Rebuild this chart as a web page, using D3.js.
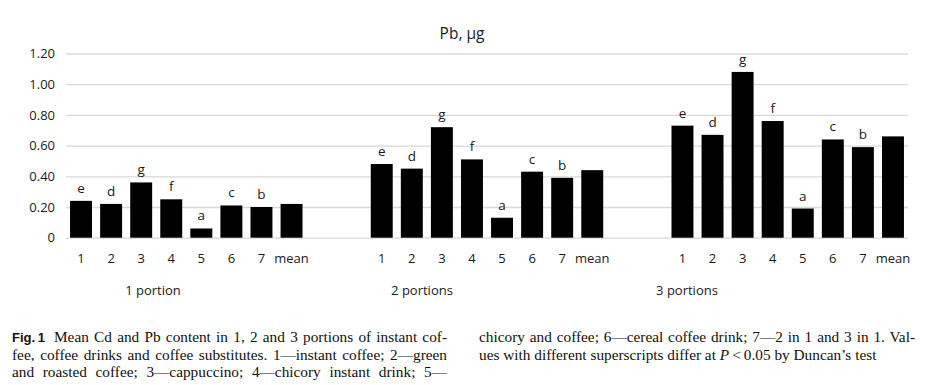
<!DOCTYPE html>
<html>
<head>
<meta charset="UTF-8">
<style>
  body { margin: 0; background: #fff; }
  svg text { font-family: "Open Sans", sans-serif; }
</style>
</head>
<body>
<div id="chart"></div>
<script src="https://d3js.org/d3.v7.min.js"></script>
<script>
const width = 930, height = 385;

// data (Pb, µg)
const categories = ["1", "2", "3", "4", "5", "6", "7", "mean"];
const portions = ["1 portion", "2 portions", "3 portions"];
const pb1 = [0.24, 0.22, 0.36, 0.25, 0.06, 0.21, 0.20, 0.22];
const pb2 = [0.48, 0.45, 0.72, 0.51, 0.13, 0.43, 0.39, 0.44];
const pb3 = [0.73, 0.67, 1.08, 0.76, 0.19, 0.64, 0.59, 0.66];
const letters = ["e", "d", "g", "f", "a", "c", "b", ""];
const yTicks = [0, 0.2, 0.4, 0.6, 0.8, 1.0, 1.2];
const yTickLabels = ["0", "0.20", "0.40", "0.60", "0.80", "1.00", "1.20"];
const series = [pb1, pb2, pb3];

// layout
const gridLeft = 66, gridRight = 908, yZero = 237.7, yTop = 53.5;
const portionLabelX = [153, 422, 687];

// one band slot per category, two empty slots between portions
const slots = [];
portions.forEach((p, i) => {
  categories.forEach(c => slots.push(i + "|" + c));
  if (i < portions.length - 1) { slots.push(i + "|gap1"); slots.push(i + "|gap2"); }
});

const x = d3.scaleBand().domain(slots).range([gridLeft, gridRight])
  .paddingInner(0.27).paddingOuter(0.135);
const y = d3.scaleLinear().domain([0, 1.2]).range([yZero, yTop]);

const bars = series.flatMap((vals, i) => vals.map((v, j) => ({
  key: i + "|" + categories[j], value: v, letter: letters[j]
})));

const svg = d3.select("#chart").append("svg")
  .attr("width", width).attr("height", height);

// gridlines + y labels
const yAxis = d3.axisLeft(y).tickValues(yTicks)
  .tickFormat((d, i) => yTickLabels[i])
  .tickSize(-(gridRight - gridLeft)).tickPadding(11);
const gy = svg.append("g").attr("transform", `translate(${gridLeft},0)`).call(yAxis);
gy.select(".domain").remove();
gy.selectAll("line").attr("stroke", "#d9d9d9").attr("stroke-width", 1.3);
gy.selectAll("text").attr("font-size", 13).attr("fill", "#1a1a1a")
  .attr("font-family", "Open Sans");

// x labels
const xAxis = d3.axisBottom(x)
  .tickValues(slots.filter(s => !s.includes("gap")))
  .tickFormat(s => s.split("|")[1])
  .tickSize(0).tickPadding(15.8);
const gx = svg.append("g").attr("transform", `translate(0,${yZero})`).call(xAxis);
gx.select(".domain").remove();
gx.selectAll("text").attr("font-size", 13).attr("fill", "#1a1a1a")
  .attr("font-family", "Open Sans");

// bars
svg.append("g").selectAll("rect").data(bars).join("rect")
  .attr("x", d => x(d.key)).attr("width", x.bandwidth())
  .attr("y", d => y(d.value)).attr("height", d => y(0) - y(d.value))
  .attr("fill", "#000");

// significance letters
svg.append("g").selectAll("text").data(bars.filter(d => d.letter)).join("text")
  .attr("x", d => x(d.key) + x.bandwidth() / 2)
  .attr("y", d => y(d.value) - 8)
  .attr("text-anchor", "middle").attr("font-size", 13.5).attr("fill", "#1a1a1a")
  .text(d => d.letter);

// title
svg.append("text").attr("x", 462).attr("y", 39).attr("text-anchor", "middle")
  .attr("font-size", 15.5).attr("fill", "#1a1a1a").text("Pb, \u00b5g");

// portion labels
svg.append("g").selectAll("text").data(portions).join("text")
  .attr("x", (d, i) => portionLabelX[i]).attr("y", 295)
  .attr("text-anchor", "middle").attr("font-size", 13).attr("fill", "#1a1a1a")
  .text(d => d);

// caption
const cap = svg.append("g").attr("font-size", 15.3).attr("fill", "#111");
function capLine(str, x0, yb, x1) {
  const t = cap.append("text").attr("x", x0).attr("y", yb)
    .style("font-family", "Liberation Serif").text(str);
  if (x1 != null) {
    const w = t.node().getComputedTextLength();
    const spaces = (str.match(/ /g) || []).length;
    if (spaces) t.attr("word-spacing", (x1 - x0 - w) / spaces);
  }
  return t;
}
cap.append("text").attr("x", 12).attr("y", 342)
  .style("font-family", "Liberation Sans").attr("font-weight", "bold").attr("font-size", 13)
  .text("Fig.\u20091");
capLine("Mean Cd and Pb content in 1, 2 and 3 portions of instant cof-", 54, 342, 447);
capLine("fee, coffee drinks and coffee substitutes. 1\u2014instant coffee; 2\u2014green", 12, 359.5, 447);
capLine("and roasted coffee; 3\u2014cappuccino; 4\u2014chicory instant drink; 5\u2014", 12, 377, 447);
capLine("chicory and coffee; 6\u2014cereal coffee drink; 7\u20142 in 1 and 3 in 1. Val-", 479, 342, 915);
const last = cap.append("text").attr("x", 479).attr("y", 359.5).style("font-family", "Liberation Serif");
last.append("tspan").text("ues with different superscripts differ at ");
last.append("tspan").attr("font-style", "italic").text("P");
last.append("tspan").text("\u2009<\u20090.05 by Duncan\u2019s test");
</script>
</body>
</html>
